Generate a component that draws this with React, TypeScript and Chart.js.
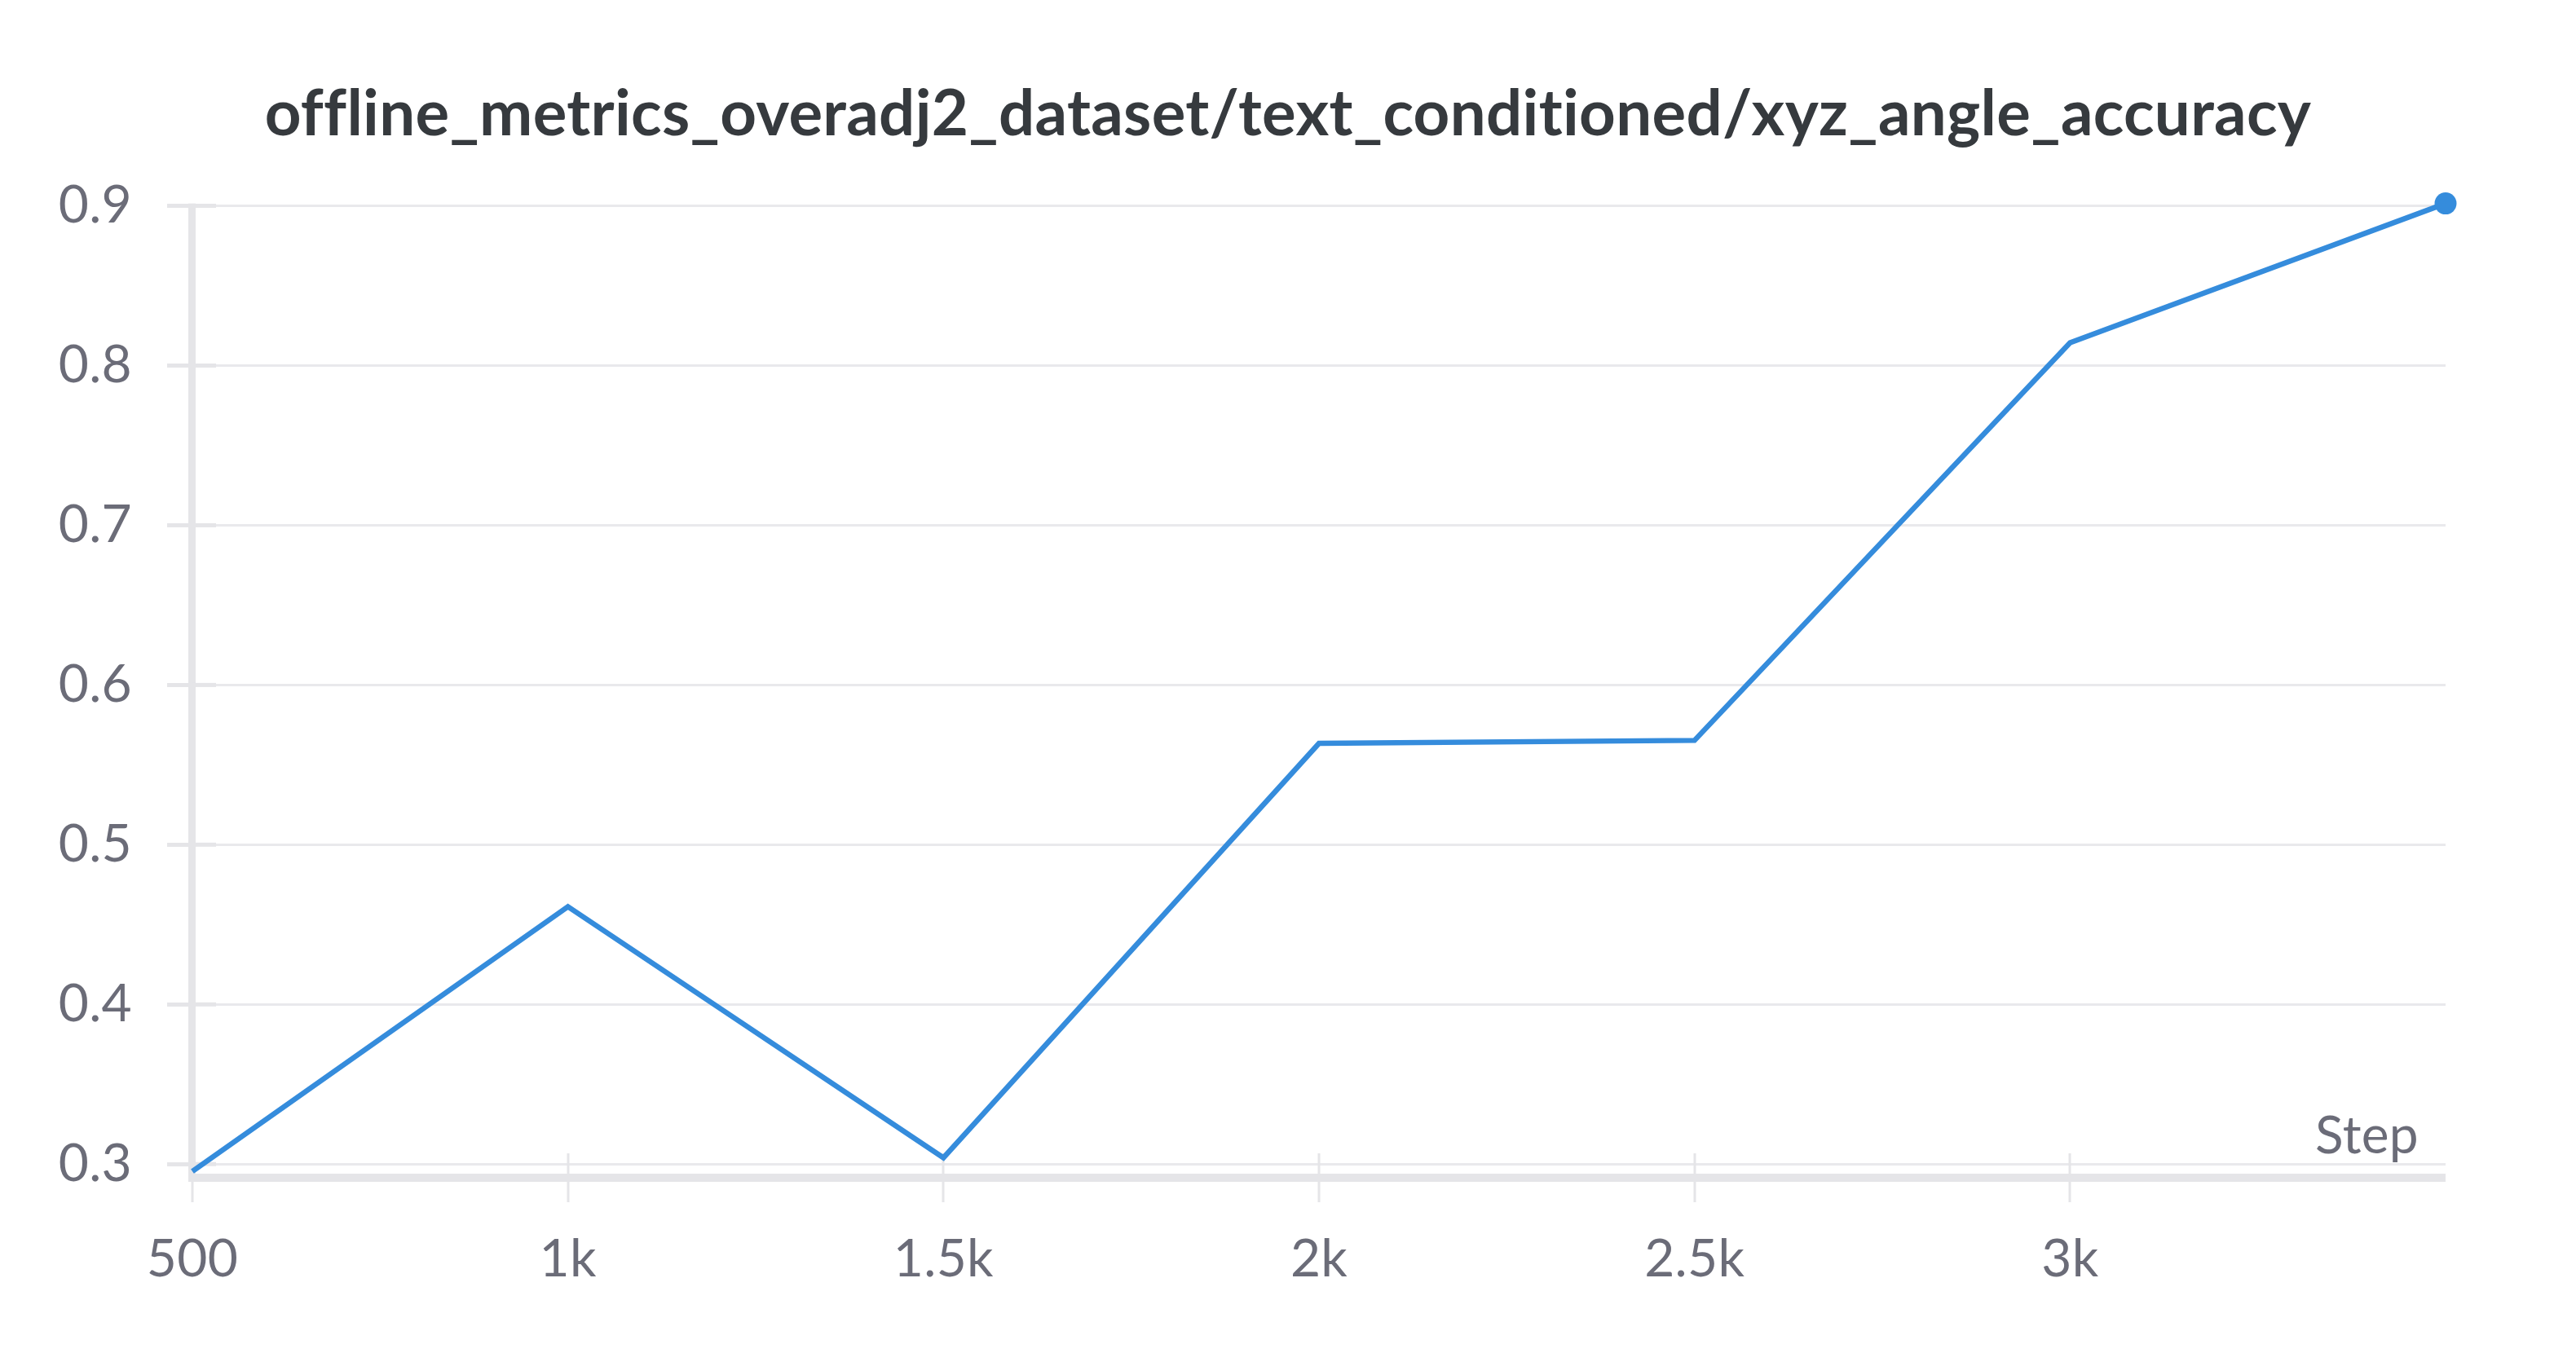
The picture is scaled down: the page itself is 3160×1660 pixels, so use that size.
import React, { useEffect, useRef } from "react";
import { Chart, registerables } from "chart.js";

Chart.register(...registerables);

const chartTitle = "offline_metrics_overadj2_dataset/text_conditioned/xyz_angle_accuracy";
const steps = [500, 1000, 1500, 2000, 2500, 3000, 3500];
const accuracy = [0.2955, 0.4612, 0.304, 0.5634, 0.5653, 0.8143, 0.9015];
const xTickValues = [500, 1000, 1500, 2000, 2500, 3000];
const xTickLabels = ["500", "1k", "1.5k", "2k", "2.5k", "3k"];
const yTickValues = [0.3, 0.4, 0.5, 0.6, 0.7, 0.8, 0.9];
const yTickLabels = ["0.3", "0.4", "0.5", "0.6", "0.7", "0.8", "0.9"];
const xAxisName = "Step";
const xMin = 500;
const xMax = 3500;
const yMin = 0.294;
const yMax = 0.9015;

const FONT = "Lato";
const TICK_COLOR = "#6b6c78";
const AXIS_COLOR = "#e5e5e8";
const GRID_COLOR = "#e9e9ec";
const LINE_COLOR = "#358cdc";

const spacingPlugin = {
  id: "noLigatures",
  beforeDraw(chart: any) {
    try {
      (chart.ctx as any).letterSpacing = "0.3px";
    } catch (e) {}
  },
};

const axesPlugin = {
  id: "wandbAxes",
  beforeDatasetsDraw(chart: any) {
    const { ctx, chartArea, scales } = chart;
    const { left, right, top, bottom } = chartArea;
    ctx.save();
    ctx.fillStyle = AXIS_COLOR;
    // y axis line
    ctx.fillRect(left - 5, top, 9, bottom + 5 - top);
    // x axis band
    ctx.fillRect(left - 5, bottom, right - left + 5, 10);
    // x ticks
    scales.x.ticks.forEach((t: any) => {
      const px = scales.x.getPixelForValue(t.value);
      ctx.fillRect(Math.round(px) - 1.5, bottom - 25, 3, 60);
    });
    // inner y tick segments
    scales.y.ticks.forEach((t: any) => {
      const py = scales.y.getPixelForValue(t.value);
      ctx.fillRect(left, py - 2.5, 29, 5);
    });
    // axis name
    ctx.fillStyle = TICK_COLOR;
    ctx.font = `64px ${FONT}`;
    ctx.textAlign = "right";
    ctx.textBaseline = "alphabetic";
    ctx.fillText(xAxisName, right - 33, bottom - 25);
    ctx.restore();
  },
};

export default function App() {
  const canvasRef = useRef<HTMLCanvasElement | null>(null);

  useEffect(() => {
    document.body.style.margin = "0";
    const canvas = canvasRef.current;
    if (!canvas) return;
    const last = steps.length - 1;
    const chart = new Chart(canvas, {
      type: "line",
      data: {
        datasets: [
          {
            data: steps.map((s, i) => ({ x: s, y: accuracy[i] })),
            borderColor: LINE_COLOR,
            backgroundColor: LINE_COLOR,
            borderWidth: 6.5,
            borderJoinStyle: "miter",
            tension: 0,
            clip: false as any,
            pointRadius: (c: any) => (c.dataIndex === last ? 13.5 : 0),
            pointHoverRadius: (c: any) => (c.dataIndex === last ? 13.5 : 0),
            pointBorderWidth: 0,
            pointBackgroundColor: LINE_COLOR,
          },
        ],
      },
      options: {
        responsive: false,
        devicePixelRatio: 1,
        animation: false,
        events: [],
        layout: { padding: { left: 0, right: 0, top: 0, bottom: 0 } },
        plugins: {
          legend: { display: false },
          tooltip: { enabled: false },
          title: {
            display: true,
            text: chartTitle,
            color: "#363a3e",
            font: { family: FONT, size: 78, weight: "bold", lineHeight: 1.2 },
            padding: { top: 94, bottom: 62 },
          },
        },
        scales: {
          x: {
            type: "linear",
            min: xMin,
            max: xMax,
            afterFit: (s: any) => {
              s.height = 220;
            },
            afterBuildTicks: (s: any) => {
              s.ticks = xTickValues.map((v) => ({ value: v }));
            },
            grid: { display: true, drawOnChartArea: false, drawTicks: false },
            border: { display: false },
            ticks: {
              padding: 67,
              color: TICK_COLOR,
              font: { family: FONT, size: 64 },
              maxRotation: 0,
              autoSkip: false,
              callback: (_v: any, i: number) => xTickLabels[i],
            },
          },
          y: {
            type: "linear",
            min: yMin,
            max: yMax,
            afterFit: (s: any) => {
              s.width = 236;
            },
            afterBuildTicks: (s: any) => {
              s.ticks = yTickValues.map((v) => ({ value: v }));
            },
            grid: {
              color: GRID_COLOR,
              lineWidth: 3,
              drawTicks: true,
              tickLength: 31,
              tickWidth: 5,
              tickColor: AXIS_COLOR,
            },
            border: { display: false },
            ticks: {
              padding: 43,
              color: TICK_COLOR,
              font: { family: FONT, size: 64 },
              autoSkip: false,
              callback: (_v: any, i: number) => yTickLabels[i],
            },
          },
          rightGap: {
            type: "linear",
            position: "right",
            display: true,
            afterFit: (s: any) => {
              s.width = 160;
            },
            grid: { display: false, drawTicks: false },
            border: { display: false },
            ticks: { display: false },
          },
        },
      },
      plugins: [spacingPlugin, axesPlugin],
    });
    return () => chart.destroy();
  }, []);

  return (
    <div style={{ width: 3160, height: 1660, background: "#fff" }}>
      <canvas ref={canvasRef} width={3160} height={1660} style={{ display: "block" }} />
    </div>
  );
}
